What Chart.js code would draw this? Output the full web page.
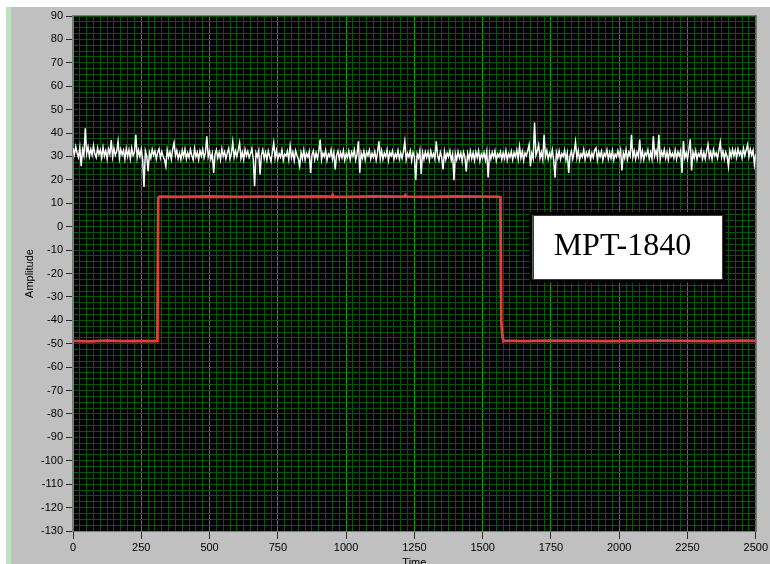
<!DOCTYPE html>
<html><head><meta charset="utf-8">
<script src="https://cdn.jsdelivr.net/npm/chart.js@4.4.1/dist/chart.umd.min.js"></script>
<style>html,body{margin:0;padding:0;background:#fff;}canvas{display:block;}</style>
</head><body>
<canvas id="c" width="770" height="564"></canvas>
<script>
// ---- data ----
const xTickLabels = [0, 250, 500, 750, 1000, 1250, 1500, 1750, 2000, 2250, 2500];
const yTickLabels = [-130,-120,-110,-100,-90,-80,-70,-60,-50,-40,-30,-20,-10,0,10,20,30,40,50,60,70,80,90];

// white trace: sampled every 5 time units from 0 to 2500
const noiseStep = 5;
const noiseValues = [
33.5,30.8,34.2,31.5,29.6,33.8,25.8,32.9,30.4,42.0,31.2,34.0,29.9,33.1,30.6,34.5,31.0,29.5,33.6,30.9,
32.8,29.4,33.9,30.2,32.5,28.9,33.2,31.0,37.0,29.8,33.4,30.5,32.1,36.5,29.2,33.0,30.7,32.6,28.8,33.3,
30.1,32.9,29.0,33.5,30.4,31.8,39.3,29.5,32.7,30.0,33.1,28.7,17.0,32.4,30.2,23.7,31.6,29.3,33.0,30.5,
32.3,28.9,31.7,33.2,29.4,32.0,30.1,28.6,25.8,32.8,29.7,31.9,28.8,33.0,35.8,30.3,32.5,29.1,31.4,28.7,
32.6,30.0,33.1,28.9,31.5,29.6,32.9,30.4,28.5,33.3,29.9,31.8,28.7,32.4,30.2,33.0,29.3,31.6,38.6,29.8,
32.2,28.8,31.3,23.0,30.9,32.8,29.4,31.7,28.6,33.2,30.1,32.0,29.0,31.5,33.4,28.9,31.2,36.2,29.6,32.4,
30.0,32.7,35.8,29.2,31.8,28.7,33.0,30.3,32.2,29.5,31.1,33.3,28.8,17.3,31.6,29.9,32.5,22.3,30.6,32.9,
29.1,31.7,28.5,32.4,30.0,27.9,31.9,35.8,29.3,32.6,28.8,31.2,29.7,32.8,28.4,31.0,30.2,32.3,28.6,34.4,
29.5,31.8,28.2,32.5,30.4,28.9,25.8,31.6,29.0,32.7,28.5,31.3,29.8,32.1,23.0,30.6,32.4,28.7,31.5,29.2,
32.2,37.2,28.6,31.4,29.9,32.6,28.3,31.1,30.0,32.8,28.8,31.7,24.4,30.5,32.3,28.9,31.6,29.4,32.5,28.4,
31.2,29.6,32.4,28.7,31.8,30.1,32.9,28.5,31.0,36.5,23.0,31.5,29.3,32.2,28.6,31.9,30.3,32.7,28.9,31.3,
29.7,32.1,28.4,31.6,36.5,29.0,32.5,28.8,31.4,29.9,32.8,28.3,31.7,30.2,32.3,28.7,31.1,29.5,32.6,28.9,
31.5,29.2,32.2,36.5,28.6,31.3,29.8,32.4,28.2,31.7,30.0,19.9,31.1,29.4,32.5,22.5,31.6,28.8,32.0,29.6,
31.9,28.5,32.3,29.7,31.2,28.9,36.5,30.4,28.3,31.8,29.6,24.5,32.1,28.7,31.4,29.9,32.4,28.4,31.0,19.9,
31.2,28.6,32.0,29.3,31.5,27.9,31.8,29.7,23.5,31.3,28.8,32.2,29.0,31.6,28.3,31.9,29.5,32.4,28.1,31.0,
29.4,31.7,28.5,32.1,21.0,31.4,28.9,31.8,29.6,32.3,28.2,31.1,29.8,32.0,28.7,31.5,29.2,32.5,28.4,31.2,
29.7,32.2,28.6,31.6,29.9,32.7,28.8,34.3,29.4,32.1,28.3,31.5,30.2,32.6,35.0,25.8,31.3,29.1,44.5,30.5,
32.4,35.0,29.2,31.8,28.7,39.3,30.1,32.5,28.9,31.4,29.6,32.8,28.4,20.9,31.7,29.3,32.3,28.8,31.2,29.9,
32.6,28.5,31.5,23.0,30.3,32.2,28.9,31.8,36.2,29.4,32.4,28.6,31.1,29.8,32.9,28.7,31.6,30.0,32.3,28.8,
31.4,29.5,32.7,33.6,28.6,31.9,29.9,32.2,28.4,31.3,30.1,32.8,28.9,31.7,29.2,32.5,28.5,31.0,29.8,32.4,
29.9,32.6,24.0,31.5,29.3,32.9,28.8,31.8,30.2,39.3,29.6,32.4,28.9,31.9,30.0,37.2,29.1,32.3,28.7,31.6,
30.4,32.8,29.0,31.7,28.9,38.6,30.3,32.5,29.4,39.3,28.8,32.0,30.1,33.0,29.2,31.8,28.7,32.6,30.0,31.4,
29.3,32.7,28.9,31.9,30.2,32.4,23.0,36.6,29.5,31.6,28.8,32.9,37.3,24.0,31.8,29.4,32.5,28.7,31.3,30.1,
32.6,29.0,31.7,28.9,32.3,35.1,29.6,31.9,28.8,32.8,30.3,31.5,29.2,32.6,36.0,29.7,32.2,28.9,31.8,30.0,
25.8,32.4,29.8,33.0,30.2,32.7,29.5,33.2,30.6,32.1,29.3,33.4,30.4,32.8,35.0,29.9,33.1,30.5,32.6,26.5,
31.0
];

// red trace
const redTimes = [0,60,120,180,240,300,309,312,316,400,500,600,700,800,900,948,951,954,1000,1100,1200,1214,1217,1220,1300,1400,1500,1560,1565,1568,1572,1576,1579,1650,1750,1850,1950,2050,2150,2250,2350,2450,2500];
const redValues = [-48.8,-49.0,-48.7,-48.9,-48.8,-48.9,-48.8,12.4,12.8,12.7,12.9,12.7,12.8,12.7,12.9,12.8,13.5,12.8,12.7,12.9,12.8,12.8,13.4,12.8,12.7,12.9,12.8,12.7,12.6,-40.5,-46.5,-48.9,-48.7,-48.9,-48.7,-48.8,-48.9,-48.8,-48.7,-48.8,-48.9,-48.7,-48.8];

const boxText = 'MPT-1840';
const boxRange = { tStart: 1683, tEnd: 2378, top: 5, bottom: -22.6 };

// ---- build datasets ----
const whiteData = noiseValues.map((v, i) => ({ x: i * noiseStep, y: v }));
const redData = redTimes.map((t, i) => ({ x: t, y: redValues[i] }));

const isMult = (v, m) => Math.abs(v / m - Math.round(v / m)) < 1e-6;

const panelPlugin = {
  id: 'panel',
  beforeDraw(chart) {
    const ctx = chart.ctx, a = chart.chartArea;
    ctx.save();
    ctx.fillStyle = '#ffffff';
    ctx.fillRect(0, 0, chart.width, chart.height);
    ctx.fillStyle = '#c0c0c0';
    ctx.fillRect(11, 7, chart.width - 11, chart.height - 7);
    ctx.fillStyle = '#c2e0c4';
    ctx.fillRect(6, 7, 5, chart.height - 7);
    ctx.fillStyle = '#000000';
    ctx.fillRect(a.left, a.top, a.right - a.left, a.bottom - a.top);
    ctx.restore();
  },
  afterDatasetsDraw(chart) {
    const ctx = chart.ctx, a = chart.chartArea;
    const xs = chart.scales.x, ys = chart.scales.y;
    const x0 = xs.getPixelForValue(boxRange.tStart), x1 = xs.getPixelForValue(boxRange.tEnd);
    const y0 = ys.getPixelForValue(boxRange.top), y1 = ys.getPixelForValue(boxRange.bottom);
    ctx.save();
    ctx.fillStyle = '#000';
    ctx.fillRect(x0 - 3, y0 - 3, x1 - x0 + 6, y1 - y0 + 6);
    ctx.fillStyle = '#fff';
    ctx.fillRect(x0, y0, x1 - x0, y1 - y0);
    ctx.strokeStyle = '#3a3a3a';
    ctx.lineWidth = 1;
    ctx.strokeRect(Math.round(x0) + 0.5, Math.round(y0) + 0.5, Math.round(x1 - x0) - 1, Math.round(y1 - y0) - 1);
    ctx.fillStyle = '#000';
    ctx.font = '32px "Liberation Serif", "Times New Roman", serif';
    ctx.textAlign = 'left';
    ctx.textBaseline = 'alphabetic';
    ctx.fillText(boxText, x0 + 21, y0 + 40.5);
    // plot frame
    ctx.strokeStyle = '#7a7a7a';
    ctx.lineWidth = 1;
    ctx.strokeRect(Math.round(a.left) - 0.5, Math.round(a.top) - 0.5, Math.round(a.right - a.left) + 1, Math.round(a.bottom - a.top) + 1);
    // axis titles
    ctx.fillStyle = '#000';
    ctx.font = '11px "Liberation Sans", Arial, sans-serif';
    ctx.textAlign = 'center';
    ctx.textBaseline = 'top';
    ctx.fillText('Time', (a.left + a.right) / 2, 557);
    ctx.translate(30, (a.top + a.bottom) / 2);
    ctx.rotate(-Math.PI / 2);
    ctx.textBaseline = 'middle';
    ctx.fillText('Amplitude', 0, 0);
    ctx.restore();
  }
};

const tickFont = { family: '"Liberation Sans", Arial, sans-serif', size: 11 };
const minorGrid = 'rgb(8,84,8)';
const majorGrid = 'rgb(26,155,26)';

new Chart(document.getElementById('c'), {
  type: 'line',
  data: {
    datasets: [
      { data: whiteData, borderColor: '#ffffff', borderWidth: 1.5, pointRadius: 0, tension: 0, fill: false },
      { data: redData, borderColor: '#de4040', borderWidth: 2.8, pointRadius: 0, tension: 0, fill: false }
    ]
  },
  options: {
    responsive: false,
    maintainAspectRatio: false,
    animation: false,
    devicePixelRatio: 1,
    layout: { padding: { left: 0, right: 13, top: 16, bottom: 0 } },
    plugins: { legend: { display: false }, tooltip: { enabled: false }, title: { display: false } },
    scales: {
      x: {
        type: 'linear',
        min: 0, max: 2500,
        afterFit: (s) => { s.height = 33; },
        ticks: {
          stepSize: 25, autoSkip: false, maxRotation: 0, minRotation: 0,
          padding: 2, color: '#000', font: tickFont,
          callback: (v) => (xTickLabels.some(t => Math.abs(t - v) < 1e-6) ? String(v) : '')
        },
        grid: {
          color: (c) => (c.tick && isMult(c.tick.value, 250) ? majorGrid : minorGrid),
          lineWidth: 1,
          tickLength: 8,
          tickColor: (c) => (c.tick && isMult(c.tick.value, 250) ? '#2a2a2a' : 'rgba(0,0,0,0)'),
          drawTicks: true
        },
        border: { display: true, color: '#7a7a7a' }
      },
      y: {
        type: 'linear',
        min: -130, max: 90,
        afterFit: (s) => { s.width = 73; },
        ticks: {
          stepSize: 2.5, autoSkip: false,
          padding: 3, color: '#000', font: tickFont,
          callback: (v) => (yTickLabels.some(t => Math.abs(t - v) < 1e-6) ? String(Math.round(v)) : '')
        },
        grid: {
          color: minorGrid,
          lineWidth: 1,
          tickLength: 7,
          tickColor: (c) => (c.tick && isMult(c.tick.value, 10) ? '#2a2a2a' : 'rgba(0,0,0,0)'),
          drawTicks: true
        },
        border: { display: true, color: '#7a7a7a' }
      }
    }
  },
  plugins: [panelPlugin]
});
</script>
</body></html>
